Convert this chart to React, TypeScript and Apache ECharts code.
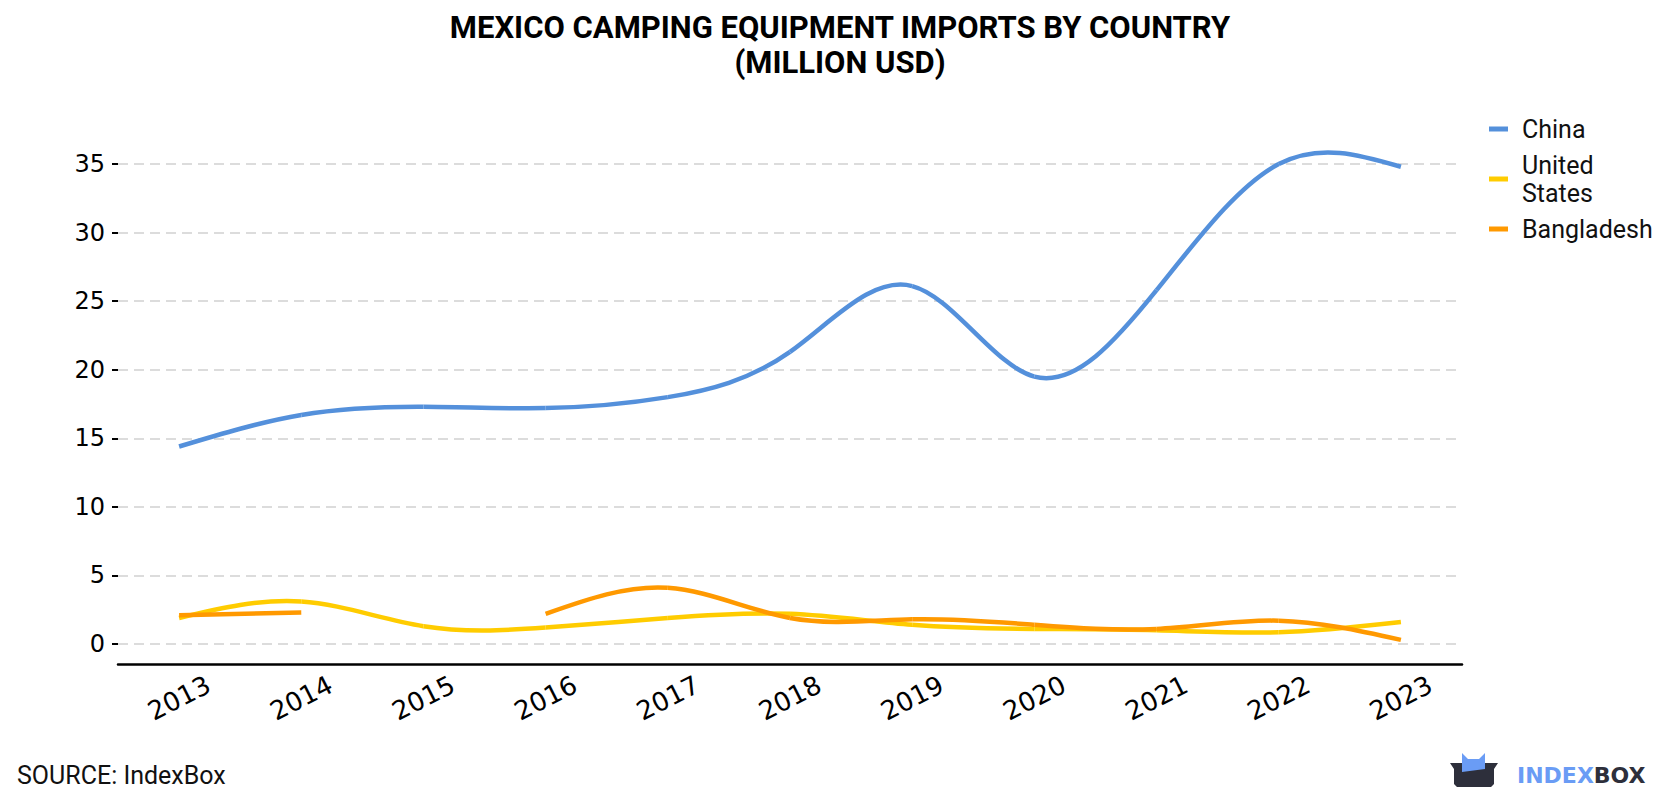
import React, { useEffect, useRef } from "react";
import * as echarts from "echarts";

const titleText = "MEXICO CAMPING EQUIPMENT IMPORTS BY COUNTRY\n(MILLION USD)";
const years = ["2013", "2014", "2015", "2016", "2017", "2018", "2019", "2020", "2021", "2022", "2023"];
const seriesNames = ["China", "United States", "Bangladesh"];
const china: (number | null)[] = [14.4, 16.7, 17.3, 17.2, 18.0, 21.3, 26.1, 19.5, 25.8, 35.0, 34.8];
const unitedStates: (number | null)[] = [1.9, 3.1, 1.3, 1.2, 1.9, 2.2, 1.4, 1.1, 1.0, 0.85, 1.6];
const bangladesh: (number | null)[] = [2.1, 2.3, null, 2.2, 4.1, 1.9, 1.8, 1.4, 1.1, 1.7, 0.3];
const colors = ["#5490db", "#ffcc00", "#ff9900"];
const sourceText = "SOURCE: IndexBox";

// natural cubic spline control points (same scheme as d3.curveNatural)
function controlPoints(x: number[]) {
  const n = x.length - 1;
  const a = new Array(n);
  const b = new Array(n);
  const r = new Array(n);
  a[0] = 0; b[0] = 2; r[0] = x[0] + 2 * x[1];
  for (let i = 1; i < n - 1; ++i) { a[i] = 1; b[i] = 4; r[i] = 4 * x[i] + 2 * x[i + 1]; }
  a[n - 1] = 2; b[n - 1] = 7; r[n - 1] = 8 * x[n - 1] + x[n];
  for (let i = 1; i < n; ++i) {
    const m = a[i] / b[i - 1];
    b[i] -= m;
    r[i] -= m * r[i - 1];
  }
  a[n - 1] = r[n - 1] / b[n - 1];
  for (let i = n - 2; i >= 0; --i) a[i] = (r[i] - a[i + 1]) / b[i];
  b[n - 1] = (x[n] + a[n - 1]) / 2;
  for (let i = 0; i < n - 1; ++i) b[i] = 2 * x[i + 1] - a[i + 1];
  return [a, b];
}

function runOf(vals: (number | null)[], i: number) {
  let s = i;
  while (s - 1 >= 0 && vals[s - 1] != null) s--;
  let e = i;
  while (e + 1 < vals.length && vals[e + 1] != null) e++;
  const run: number[] = [];
  for (let k = s; k <= e; k++) run.push(k);
  return run;
}

function makeSeries(name: string, vals: (number | null)[], color: string, z: number) {
  return {
    name,
    type: "custom",
    z,
    clip: false,
    itemStyle: { color },
    encode: { x: 0, y: 1 },
    data: vals.map((v, i) => [i, v == null ? "-" : v]),
    renderItem: (params: any, api: any) => {
      const i = params.dataIndex;
      if (i + 1 >= vals.length || vals[i] == null || vals[i + 1] == null) return null;
      const run = runOf(vals, i);
      const pts = run.map((k) => api.coord([k, vals[k]]));
      const j = i - run[0];
      const p1 = pts[j];
      const p2 = pts[j + 1];
      let c1 = p1;
      let c2 = p2;
      if (pts.length > 2) {
        const [ax, bx] = controlPoints(pts.map((p: number[]) => p[0]));
        const [ay, by] = controlPoints(pts.map((p: number[]) => p[1]));
        c1 = [ax[j], ay[j]];
        c2 = [bx[j], by[j]];
      }
      return {
        type: "bezierCurve",
        shape: {
          x1: p1[0], y1: p1[1], x2: p2[0], y2: p2[1],
          cpx1: c1[0], cpy1: c1[1], cpx2: c2[0], cpy2: c2[1],
        },
        style: { stroke: color, lineWidth: 4.5, fill: "none", lineCap: "butt" },
      };
    },
  };
}

export default function App() {
  const ref = useRef<HTMLDivElement>(null);
  useEffect(() => {
    if (!ref.current) return;
    const chart = echarts.init(ref.current, undefined, { renderer: "svg" });
    const values = [china, unitedStates, bangladesh];
    chart.setOption({
      animation: false,
      backgroundColor: "#ffffff",
      title: {
        text: titleText,
        left: "center",
        top: 5,
        textStyle: {
          fontFamily: "Roboto",
          fontWeight: "bold",
          fontSize: 31,
          lineHeight: 35,
          color: "#000",
        },
      },
      legend: {
        orient: "vertical",
        left: 1484,
        top: 110,
        icon: "rect",
        itemWidth: 19,
        itemHeight: 5,
        itemGap: 8,
        formatter: (name: string) => (name === "United States" ? "United\nStates" : name),
        textStyle: {
          fontFamily: "Roboto",
          fontSize: 25,
          lineHeight: 28,
          color: "#111",
          padding: [0, 0, 0, 9],
        },
        data: seriesNames,
      },
      grid: { left: 118, right: 218, top: 164, bottom: 156, containLabel: false },
      xAxis: {
        type: "category",
        data: years,
        boundaryGap: true,
        offset: 20,
        axisLine: { onZero: false, lineStyle: { color: "#000", width: 2.5 } },
        axisTick: { alignWithLabel: true, length: 6, lineStyle: { color: "#000", width: 2 } },
        axisLabel: {
          rotate: 27,
          fontSize: 26,
          fontFamily: "DejaVu Sans",
          color: "#000",
          margin: 34,
          align: "center",
          verticalAlign: "middle",
        },
        splitLine: { show: false },
      },
      yAxis: {
        type: "value",
        min: 0,
        max: 35,
        interval: 5,
        axisLine: { show: false },
        axisTick: { show: true, length: 6, lineStyle: { color: "#000", width: 2 } },
        axisLabel: { fontSize: 24, fontFamily: "DejaVu Sans", color: "#000", margin: 13 },
        splitLine: { lineStyle: { color: "#dcdcdc", width: 2, type: [10, 6] } },
      },
      series: seriesNames.map((name, i) => makeSeries(name, values[i], colors[i], 2 + i)),
      graphic: [
        {
          type: "text",
          x: 17,
          y: 775,
          style: {
            text: sourceText,
            fontFamily: "Roboto",
            fontSize: 25,
            fill: "#111",
            verticalAlign: "middle",
          },
        },
        {
          type: "polygon",
          shape: {
            points: [
              [1450, 763], [1498, 763], [1494, 769], [1494, 784], [1491, 787],
              [1457, 787], [1454, 784], [1454, 769],
            ],
          },
          style: { fill: "#2d2f3b" },
        },
        {
          type: "polygon",
          shape: {
            points: [
              [1462, 753], [1468, 759], [1479, 759], [1485, 753], [1485, 769], [1462, 772],
            ],
          },
          style: { fill: "#6a9cf5" },
        },
        {
          type: "text",
          x: 1517,
          y: 775,
          style: {
            text: "{a|INDEX}{b|BOX}",
            verticalAlign: "middle",
            rich: {
              a: { fontFamily: "DejaVu Sans", fontWeight: "bold", fontSize: 22, fill: "#6a9cf5" },
              b: { fontFamily: "DejaVu Sans", fontWeight: "bold", fontSize: 22, fill: "#2d2f3b" },
            },
          },
        },
      ],
    });
    return () => chart.dispose();
  }, []);
  return (
    <div
      ref={ref}
      style={{ position: "fixed", left: 0, top: 0, width: 1680, height: 800, background: "#fff" }}
    />
  );
}
